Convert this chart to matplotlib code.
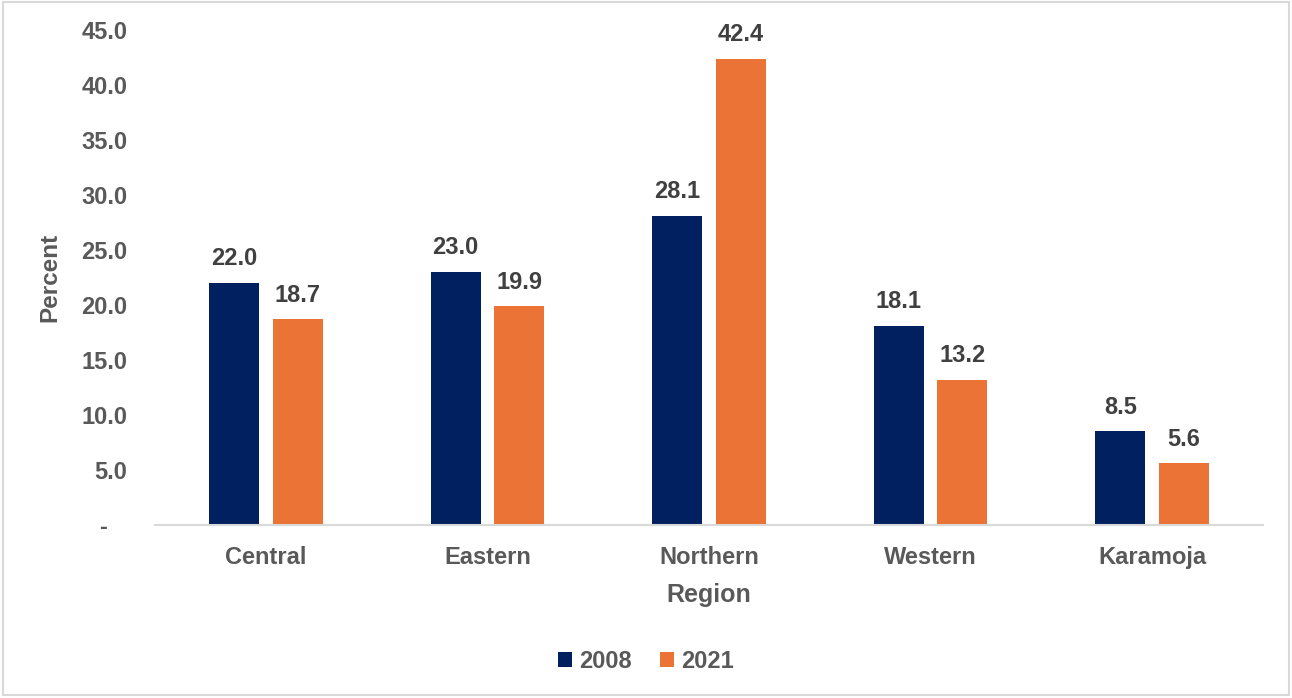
import matplotlib
matplotlib.use("Agg")
from matplotlib import pyplot as plt
from matplotlib.patches import Rectangle
import numpy as np

regions = ["Central", "Eastern", "Northern", "Western", "Karamoja"]
values_2008 = [22.0, 23.0, 28.1, 18.1, 8.5]
values_2021 = [18.7, 19.9, 42.4, 13.2, 5.6]
y_ticks = [0, 5, 10, 15, 20, 25, 30, 35, 40, 45]

plt.rcParams["font.family"] = ["Liberation Sans", "DejaVu Sans"]
plt.rcParams["font.weight"] = "bold"

gray = "#595959"
navy = "#002060"
orange = "#EA7335"

fig = plt.figure(figsize=(12.92, 6.98), dpi=100)
ax = fig.add_axes([0.12, 0.2479, 0.8575, 0.7091])

x = np.arange(len(regions))
w = 0.226
off = 0.1435
b1 = ax.bar(x - off, values_2008, w, color=navy, label="2008")
b2 = ax.bar(x + off, values_2021, w, color=orange, label="2021")
for bars in (b1, b2):
    ax.bar_label(bars, fmt="%.1f", padding=9, fontsize=17, color="#404040", fontweight="bold")

ax.set_xlim(-0.5, len(regions) - 0.5)
ax.set_ylim(0, 45)
ax.set_yticks(y_ticks)
ax.set_yticklabels(["-   "] + [f"{v:.1f}" for v in y_ticks[1:]])
ax.set_xticks(x)
ax.set_xticklabels(regions)
ax.tick_params(axis="both", length=0, labelsize=17, labelcolor=gray)
ax.tick_params(axis="y", pad=20)
ax.tick_params(axis="x", pad=15)

for s in ["top", "right", "left"]:
    ax.spines[s].set_visible(False)
ax.spines["bottom"].set_color("#D9D9D9")
ax.spines["bottom"].set_linewidth(1.5)

ax.set_xlabel("Region", fontsize=18, color=gray, fontweight="bold", labelpad=10)
ax.set_ylabel("Percent", fontsize=17.5, color=gray, fontweight="bold", labelpad=14)

leg = fig.legend(loc="center", bbox_to_anchor=(0.5, 0.052), ncol=2, frameon=False,
                 fontsize=17, handlelength=0.6, handleheight=0.6, handletextpad=0.3,
                 columnspacing=1.2)
for t in leg.get_texts():
    t.set_color(gray)

fig.patches.append(Rectangle((0.002, 0.004), 0.996, 0.993, transform=fig.transFigure,
                             fill=False, edgecolor="#D9D9D9", linewidth=1.5))

fig.savefig("out.png", dpi=100)
